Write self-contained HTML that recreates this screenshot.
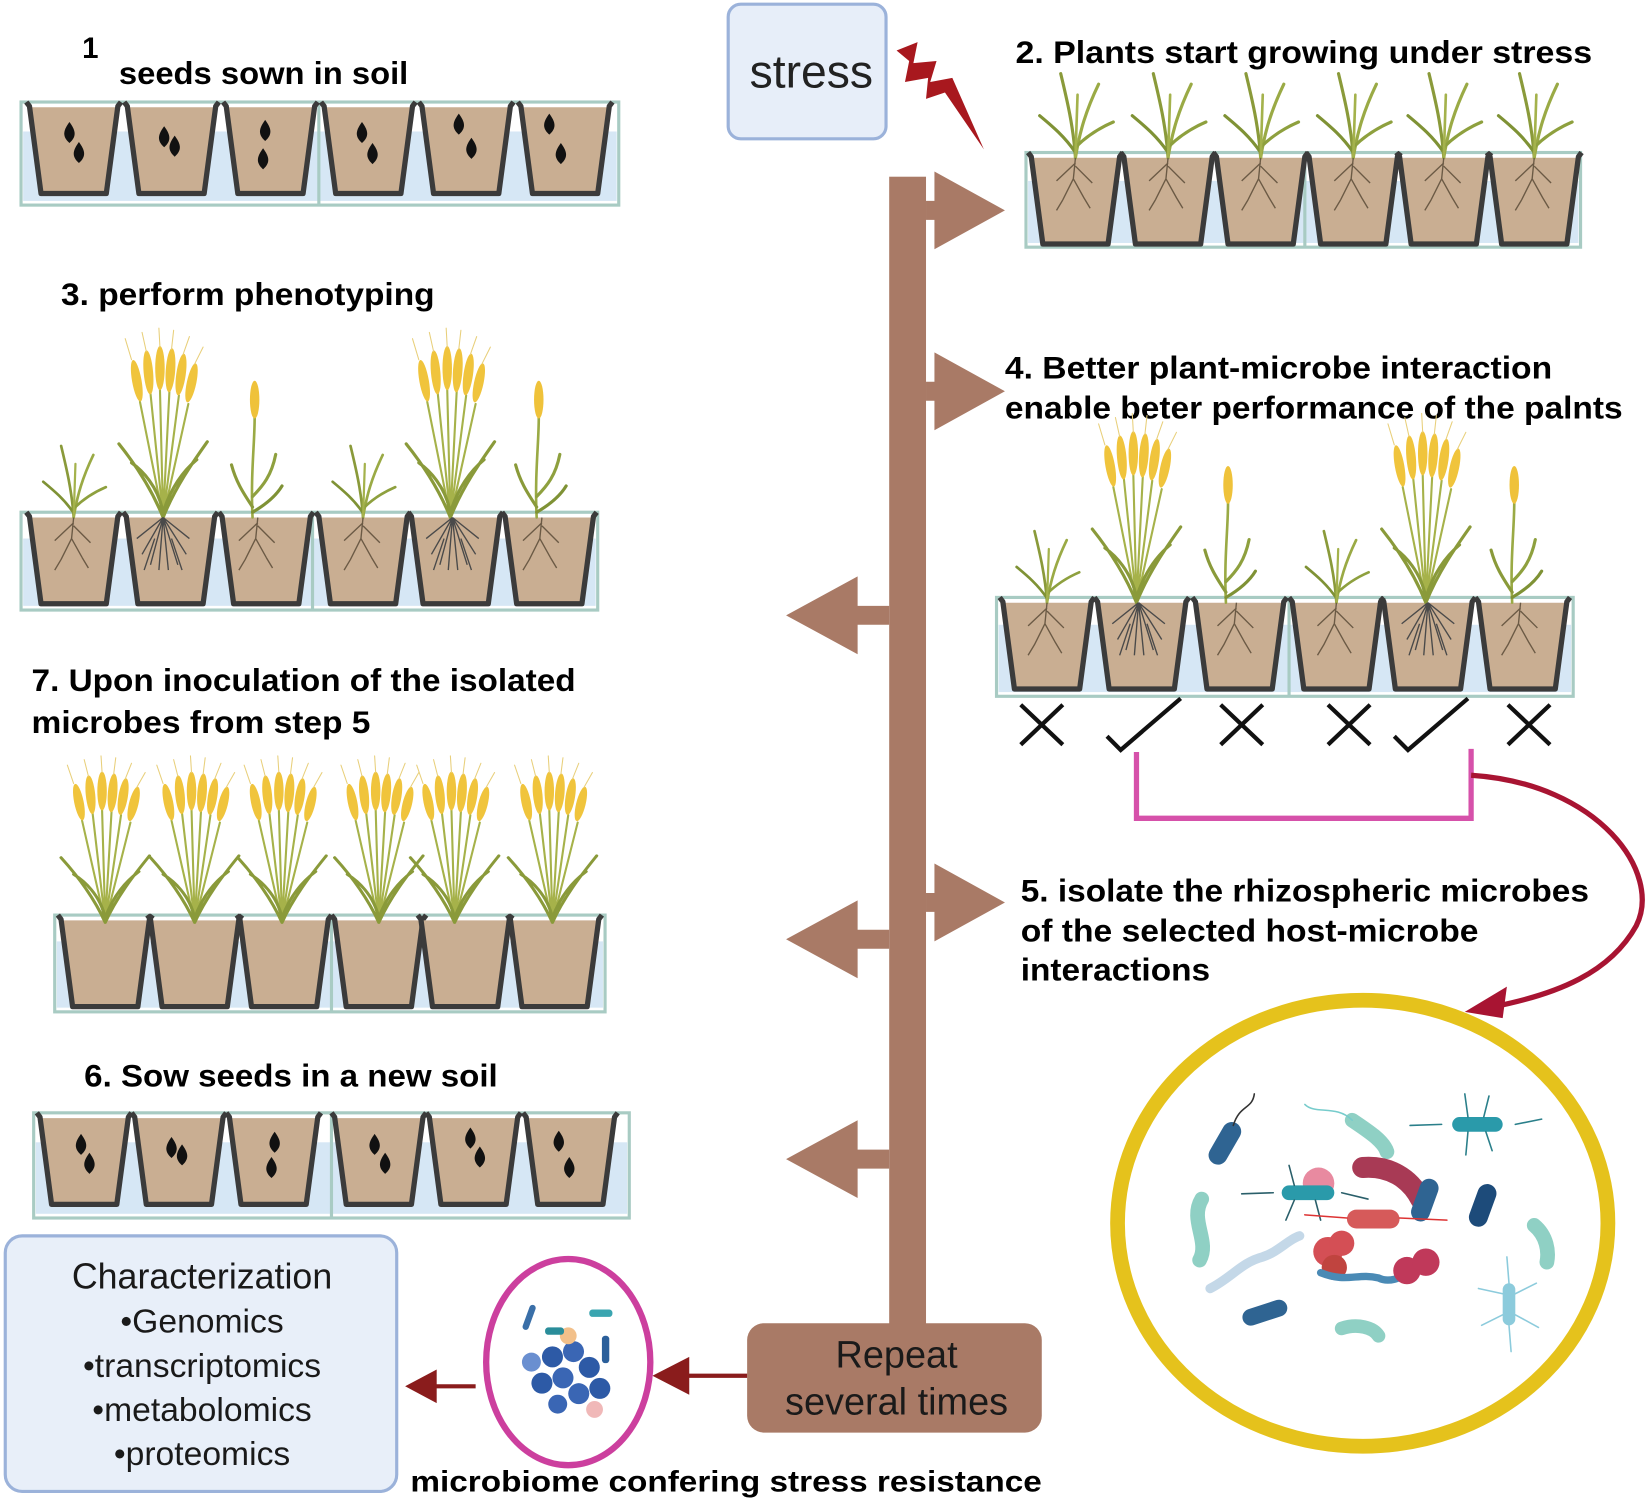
<!DOCTYPE html>
<html><head><meta charset="utf-8"><style>html,body{margin:0;padding:0;background:#fff}svg{display:block}</style></head>
<body>
<svg width="1650" height="1502" viewBox="0 0 1568 1428" preserveAspectRatio="none" xmlns="http://www.w3.org/2000/svg" font-family="Liberation Sans, sans-serif">
<defs>
<g id="pot">
<path d="M-40,2 L-29,82 L29,82 L40,2Z" fill="#c9ae92"/>
<path d="M-45,-3 L-42,1 L-31,84 L31,84 L42,1 L45,-3" fill="none" stroke="#3b3b3b" stroke-width="5" stroke-linejoin="round"/>
</g>
<path id="seed" d="M0,-12 C5,-5 8,1 0,8 C-8,1 -5,-5 0,-12Z" fill="#111"/>
<g id="roots" stroke="#6b5a45" stroke-width="1.3" fill="none">
<path d="M0,0 L-2,20 L-12,40 M-2,20 L8,38 M0,5 L-18,22 M0,8 L16,24 M-12,40 L-18,50 M8,38 L14,48"/>
</g>
<g id="roots2" stroke="#4a4a4a" stroke-width="1.3" fill="none">
<path d="M0,0 L-20,35 M0,0 L-12,45 M0,0 L-4,50 M0,0 L5,50 M0,0 L14,45 M0,0 L22,35 M0,0 L-25,20 M0,0 L25,20 M-8,20 L-18,50 M8,20 L18,50"/>
</g>
<g id="seedling" fill="none" stroke-linecap="round">
<path d="M0,0 C-2,-30 -8,-55 -14,-80" stroke="#8a9a3a" stroke-width="3"/>
<path d="M0,0 C4,-25 10,-45 22,-70" stroke="#9aaa45" stroke-width="3"/>
<path d="M0,-5 C-10,-20 -22,-30 -34,-40" stroke="#7f9235" stroke-width="3"/>
<path d="M0,-10 C10,-20 22,-28 36,-34" stroke="#8ea03e" stroke-width="3"/>
<path d="M0,0 L2,-60" stroke="#a4b24c" stroke-width="2.5"/>
</g>
<g id="single" fill="none" stroke-linecap="round">
<path d="M0,0 C-2,-40 2,-70 2,-95" stroke="#9aaa45" stroke-width="2.5"/>
<path d="M0,-10 C-10,-25 -16,-35 -20,-50" stroke="#8a9a3a" stroke-width="3"/>
<path d="M0,-20 C10,-30 18,-40 22,-60" stroke="#8ea03e" stroke-width="3"/>
<path d="M0,-5 C12,-12 22,-20 28,-30" stroke="#7f9235" stroke-width="3"/>
<ellipse cx="2" cy="-112" rx="4.5" ry="18" fill="#efc23a"/>
</g>
<g id="wheat" fill="none" stroke-linecap="round">
<path d="M0,0 L-22,-110 M0,0 L-12,-118 M0,0 L-3,-122 M0,0 L6,-120 M0,0 L15,-116 M0,0 L24,-108" stroke="#a6b24a" stroke-width="2"/>
<path d="M0,0 C-12,-30 -30,-55 -42,-70 M0,0 C12,-30 30,-55 42,-72 M0,-5 C-5,-30 -20,-45 -30,-52 M0,-5 C8,-30 20,-45 32,-55" stroke="#8a9a3a" stroke-width="3"/>
<g fill="#f0c43c">
<ellipse cx="-25" cy="-130" rx="4.5" ry="20" transform="rotate(-10 -25 -130)"/>
<ellipse cx="-14" cy="-138" rx="4.5" ry="21" transform="rotate(-5 -14 -138)"/>
<ellipse cx="-3" cy="-142" rx="4.5" ry="21"/>
<ellipse cx="7" cy="-140" rx="4.5" ry="21" transform="rotate(4 7 -140)"/>
<ellipse cx="17" cy="-136" rx="4.5" ry="20" transform="rotate(8 17 -136)"/>
<ellipse cx="27" cy="-128" rx="4.5" ry="19" transform="rotate(12 27 -128)"/>
</g>
<path d="M-30,-150 L-36,-170 M-16,-158 L-20,-176 M-3,-162 L-4,-180 M8,-160 L10,-178 M19,-155 L25,-172 M30,-146 L38,-162" stroke="#e8cf7a" stroke-width="1"/>
</g>
<path id="rarrow" d="M0,-9 L8,-9 L8,-37 L75,0 L8,37 L8,9 L0,9Z" fill="#a97a66"/>
<path id="larrow" d="M0,-9 L-30,-9 L-30,-37 L-98,0 L-30,37 L-30,9 L0,9Z" fill="#a97a66"/>
</defs>

<!-- Row 1 -->
<rect x="20" y="97" width="568" height="98" fill="#fff" stroke="#a8cbc3" stroke-width="3"/>
<rect x="22" y="125" width="564" height="66" fill="#d6e7f5"/>
<line x1="303" y1="97" x2="303" y2="195" stroke="#a8cbc3" stroke-width="3"/>
<g transform="translate(0,100)">
<use href="#pot" x="70"/><use href="#pot" x="163"/><use href="#pot" x="257"/><use href="#pot" x="350"/><use href="#pot" x="443"/><use href="#pot" x="537"/>
</g>
<use href="#seed" x="66" y="128"/><use href="#seed" x="75" y="147"/>
<use href="#seed" x="156" y="132"/><use href="#seed" x="166" y="141"/>
<use href="#seed" x="252" y="126"/><use href="#seed" x="250" y="153"/>
<use href="#seed" x="344" y="128"/><use href="#seed" x="354" y="148"/>
<use href="#seed" x="436" y="120"/><use href="#seed" x="448" y="143"/>
<use href="#seed" x="522" y="120"/><use href="#seed" x="533" y="148"/>
<text x="78" y="55" font-size="28" font-weight="bold">1</text>
<text x="113" y="80" font-size="30" font-weight="bold" textLength="275" lengthAdjust="spacingAndGlyphs">seeds sown in soil</text>

<!-- Row 2 -->
<rect x="975" y="145" width="527" height="90" fill="#fff" stroke="#a8cbc3" stroke-width="3"/>
<rect x="977" y="172" width="523" height="59" fill="#d6e7f5"/>
<line x1="1240" y1="145" x2="1240" y2="235" stroke="#a8cbc3" stroke-width="3"/>
<g transform="translate(0,148)">
<use href="#pot" x="1022"/><use href="#pot" x="1110"/><use href="#pot" x="1198"/><use href="#pot" x="1286"/><use href="#pot" x="1372"/><use href="#pot" x="1458"/>
</g>
<g transform="translate(0,150)">
<use href="#seedling" x="1022"/><use href="#seedling" x="1110"/><use href="#seedling" x="1198"/><use href="#seedling" x="1286"/><use href="#seedling" x="1372"/><use href="#seedling" x="1458"/>
<use href="#roots" x="1022"/><use href="#roots" x="1110"/><use href="#roots" x="1198"/><use href="#roots" x="1286"/><use href="#roots" x="1372"/><use href="#roots" x="1458"/>
</g>
<text x="965" y="60" font-size="30" font-weight="bold" textLength="548" lengthAdjust="spacingAndGlyphs">2. Plants start  growing under stress</text>

<!-- Stress -->
<rect x="692" y="4" width="150" height="128" rx="12" fill="#e7eef9" stroke="#9bb2da" stroke-width="3"/>
<text x="771" y="83" font-size="44" text-anchor="middle" fill="#222">stress</text>
<path d="M852,48 L872,40 L868,60 L890,58 L884,78 L905,74 L935,142 L898,88 L880,94 L882,74 L860,78 L864,58 Z" fill="#a8181e"/>

<!-- Row 3 -->
<text x="58" y="290" font-size="30" font-weight="bold" textLength="355" lengthAdjust="spacingAndGlyphs">3. perform phenotyping</text>
<rect x="20" y="487" width="548" height="93" fill="#fff" stroke="#a8cbc3" stroke-width="3"/>
<rect x="22" y="512" width="544" height="64" fill="#d6e7f5"/>
<line x1="297" y1="487" x2="297" y2="580" stroke="#a8cbc3" stroke-width="3"/>
<g transform="translate(0,490)">
<use href="#pot" x="70"/><use href="#pot" x="162"/><use href="#pot" x="253"/><use href="#pot" x="345"/><use href="#pot" x="433"/><use href="#pot" x="522"/>
</g>
<g transform="translate(0,492)">
<use href="#seedling" x="70" transform="translate(70,0) scale(0.85) translate(-70,0)"/>
<use href="#wheat" x="155"/>
<use href="#single" x="240"/>
<use href="#seedling" x="345" transform="translate(345,0) scale(0.85) translate(-345,0)"/>
<use href="#wheat" x="428"/>
<use href="#single" x="510"/>
<use href="#roots" x="70"/><use href="#roots2" x="155"/><use href="#roots" x="245"/><use href="#roots" x="345"/><use href="#roots2" x="430"/><use href="#roots" x="515"/>
</g>

<!-- Row 4 -->
<text x="955" y="360" font-size="30" font-weight="bold" textLength="520" lengthAdjust="spacingAndGlyphs">4. Better plant-microbe interaction</text>
<text x="955" y="398" font-size="30" font-weight="bold" textLength="587" lengthAdjust="spacingAndGlyphs">enable beter performance of the palnts</text>
<rect x="947" y="568" width="548" height="94" fill="#fff" stroke="#a8cbc3" stroke-width="3"/>
<rect x="949" y="594" width="544" height="64" fill="#d6e7f5"/>
<line x1="1225" y1="568" x2="1225" y2="662" stroke="#a8cbc3" stroke-width="3"/>
<g transform="translate(0,571)">
<use href="#pot" x="995"/><use href="#pot" x="1085"/><use href="#pot" x="1178"/><use href="#pot" x="1270"/><use href="#pot" x="1357"/><use href="#pot" x="1447"/>
</g>
<g transform="translate(0,573)">
<use href="#seedling" x="995" transform="translate(995,0) scale(0.85) translate(-995,0)"/>
<use href="#wheat" x="1080"/>
<use href="#single" x="1165"/>
<use href="#seedling" x="1270" transform="translate(1270,0) scale(0.85) translate(-1270,0)"/>
<use href="#wheat" x="1355"/>
<use href="#single" x="1437"/>
<use href="#roots" x="995"/><use href="#roots2" x="1082"/><use href="#roots" x="1175"/><use href="#roots" x="1270"/><use href="#roots2" x="1357"/><use href="#roots" x="1445"/>
</g>
<g stroke="#111" stroke-width="4" fill="none">
<path d="M970,670 L1010,708 M1010,670 L970,708"/>
<path d="M1160,670 L1200,708 M1200,670 L1160,708"/>
<path d="M1262,670 L1302,708 M1302,670 L1262,708"/>
<path d="M1433,670 L1473,708 M1473,670 L1433,708"/>
<path d="M1052,700 L1065,713 L1122,664"/>
<path d="M1325,700 L1338,713 L1395,664"/>
</g>
<path d="M1080,715 L1080,778 L1398,778 L1398,712" fill="none" stroke="#d651aa" stroke-width="5"/>
<path d="M1398,737 C1520,745 1580,830 1555,880 C1530,925 1480,945 1420,957" fill="none" stroke="#a81432" stroke-width="5"/>
<path d="M1392,962 L1432,938 L1428,968 Z" fill="#a81432"/>

<!-- Row 7 -->
<text x="30" y="657" font-size="30" font-weight="bold" textLength="517" lengthAdjust="spacingAndGlyphs">7. Upon inoculation of the isolated</text>
<text x="30" y="697" font-size="30" font-weight="bold" textLength="322" lengthAdjust="spacingAndGlyphs">microbes from step 5</text>
<rect x="52" y="870" width="523" height="92" fill="#fff" stroke="#a8cbc3" stroke-width="3"/>
<rect x="54" y="895" width="519" height="63" fill="#d6e7f5"/>
<line x1="315" y1="870" x2="315" y2="962" stroke="#a8cbc3" stroke-width="3"/>
<g transform="translate(0,873)">
<use href="#pot" x="100"/><use href="#pot" x="185"/><use href="#pot" x="270"/><use href="#pot" x="360"/><use href="#pot" x="442"/><use href="#pot" x="527"/>
</g>
<g transform="translate(0,877) scale(1,0.88)">
<use href="#wheat" x="100"/><use href="#wheat" x="185"/><use href="#wheat" x="268"/><use href="#wheat" x="360"/><use href="#wheat" x="432"/><use href="#wheat" x="525"/>
</g>

<!-- Row 5 text -->
<text x="970" y="857" font-size="30" font-weight="bold" textLength="540" lengthAdjust="spacingAndGlyphs">5. isolate the rhizospheric microbes</text>
<text x="970" y="895" font-size="30" font-weight="bold" textLength="435" lengthAdjust="spacingAndGlyphs">of the selected host-microbe</text>
<text x="970" y="932" font-size="30" font-weight="bold" textLength="180" lengthAdjust="spacingAndGlyphs">interactions</text>

<!-- Row 6 -->
<text x="80" y="1033" font-size="30" font-weight="bold" textLength="393" lengthAdjust="spacingAndGlyphs">6. Sow seeds in a new soil</text>
<rect x="32" y="1058" width="566" height="100" fill="#fff" stroke="#a8cbc3" stroke-width="3"/>
<rect x="34" y="1086" width="562" height="68" fill="#d6e7f5"/>
<line x1="315" y1="1058" x2="315" y2="1158" stroke="#a8cbc3" stroke-width="3"/>
<g transform="translate(0,1061)">
<use href="#pot" x="80"/><use href="#pot" x="170"/><use href="#pot" x="260"/><use href="#pot" x="360"/><use href="#pot" x="450"/><use href="#pot" x="542"/>
</g>
<use href="#seed" x="77" y="1090"/><use href="#seed" x="85" y="1108"/>
<use href="#seed" x="163" y="1093"/><use href="#seed" x="173" y="1100"/>
<use href="#seed" x="261" y="1088"/><use href="#seed" x="258" y="1112"/>
<use href="#seed" x="356" y="1090"/><use href="#seed" x="366" y="1108"/>
<use href="#seed" x="447" y="1084"/><use href="#seed" x="456" y="1102"/>
<use href="#seed" x="531" y="1087"/><use href="#seed" x="541" y="1112"/>

<!-- trunk and arrows -->
<rect x="845" y="168" width="35" height="1095" fill="#a97a66"/>
<use href="#rarrow" x="880" y="200"/>
<use href="#rarrow" x="880" y="372"/>
<use href="#rarrow" x="880" y="858"/>
<use href="#larrow" x="845" y="585"/>
<use href="#larrow" x="845" y="893"/>
<use href="#larrow" x="845" y="1102"/>
<rect x="710" y="1258" width="280" height="104" rx="16" fill="#a97a66"/>
<text x="852" y="1300" font-size="36" text-anchor="middle" fill="#1a1a1a">Repeat</text>
<text x="852" y="1345" font-size="36" text-anchor="middle" fill="#1a1a1a">several times</text>

<!-- dark red arrows -->
<line x1="710" y1="1308" x2="650" y2="1308" stroke="#8a1c1c" stroke-width="4"/>
<path d="M620,1308 L655,1290 L655,1326 Z" fill="#8a1c1c"/>
<line x1="452" y1="1318" x2="410" y2="1318" stroke="#8a1c1c" stroke-width="4"/>
<path d="M385,1318 L415,1302 L415,1334 Z" fill="#8a1c1c"/>

<!-- magenta ellipse with microbes -->
<ellipse cx="540" cy="1295" rx="78" ry="98" fill="#fff" stroke="#cc3f9e" stroke-width="6"/>
<g>
<circle cx="525" cy="1290" r="10" fill="#2d5aa6"/><circle cx="545" cy="1285" r="10" fill="#3a66b4"/><circle cx="560" cy="1300" r="10" fill="#2d5aa6"/>
<circle cx="535" cy="1310" r="10" fill="#3a66b4"/><circle cx="515" cy="1315" r="10" fill="#2d5aa6"/><circle cx="550" cy="1325" r="10" fill="#3a66b4"/>
<circle cx="570" cy="1320" r="10" fill="#2d5aa6"/><circle cx="530" cy="1335" r="9" fill="#3a66b4"/><circle cx="505" cy="1295" r="9" fill="#6a8fd0"/>
<circle cx="565" cy="1340" r="8" fill="#f0b8b8"/><circle cx="540" cy="1270" r="8" fill="#f2c08a"/>
<rect x="500" y="1240" width="6" height="25" rx="3" fill="#3a6fa8" transform="rotate(20 503 1252)"/>
<rect x="560" y="1245" width="22" height="7" rx="3" fill="#3aa5b0"/>
<rect x="518" y="1262" width="18" height="7" rx="3" fill="#2a8d9a"/>
<rect x="572" y="1270" width="7" height="26" rx="3" fill="#2b5f9a"/>
</g>

<!-- characterization -->
<rect x="5" y="1175" width="372" height="243" rx="16" fill="#e8eff9" stroke="#9bb2da" stroke-width="3"/>
<g font-size="34" text-anchor="middle" fill="#1a1a1a">
<text x="192" y="1225">Characterization</text>
<text x="192" y="1267" font-size="32">•Genomics</text>
<text x="192" y="1309" font-size="32">•transcriptomics</text>
<text x="192" y="1351" font-size="32">•metabolomics</text>
<text x="192" y="1393" font-size="32">•proteomics</text>
</g>
<text x="390" y="1418" font-size="28" font-weight="bold" textLength="600" lengthAdjust="spacingAndGlyphs">microbiome confering stress resistance</text>

<!-- yellow circle microbes -->
<ellipse cx="1295" cy="1163" rx="233" ry="212" fill="#fff" stroke="#e5c21c" stroke-width="14"/>
<g stroke-linecap="round">
<rect x="1155" y="1065" width="18" height="44" rx="9" fill="#2f6492" transform="rotate(30 1164 1087)"/>
<path d="M1172,1070 C1178,1050 1190,1055 1192,1040" stroke="#333" stroke-width="1.5" fill="none"/>
<path d="M1285,1065 C1300,1075 1315,1085 1318,1095" stroke="#8fd0c4" stroke-width="14" fill="none"/>
<path d="M1285,1065 C1270,1050 1250,1060 1240,1050" stroke="#7cc" stroke-width="1.5" fill="none"/>
<rect x="1380" y="1062" width="48" height="14" rx="7" fill="#2a9aaa"/>
<path d="M1370,1069 L1340,1070 M1440,1069 L1465,1064 M1395,1062 L1392,1040 M1410,1062 L1415,1042 M1395,1076 L1393,1098 M1412,1076 L1418,1094" stroke="#2a7f8a" stroke-width="1.5"/>
<path d="M1295,1110 C1320,1108 1340,1120 1350,1140" stroke="#a83a55" stroke-width="20" fill="none"/>
<rect x="1345" y="1120" width="18" height="42" rx="9" fill="#2f6492" transform="rotate(20 1354 1141)"/>
<rect x="1400" y="1125" width="18" height="42" rx="9" fill="#1d4b7a" transform="rotate(20 1409 1146)"/>
<circle cx="1253" cy="1125" r="15" fill="#e88aa0"/>
<rect x="1218" y="1127" width="50" height="14" rx="7" fill="#2a9aaa"/>
<path d="M1210,1134 L1180,1135 M1275,1134 L1300,1140 M1230,1127 L1225,1108 M1250,1141 L1255,1160 M1230,1141 L1222,1160" stroke="#2a5f6a" stroke-width="1.5"/>
<rect x="1280" y="1150" width="50" height="18" rx="9" fill="#d65a5a"/>
<path d="M1280,1158 L1240,1155 M1330,1158 L1375,1160" stroke="#d33" stroke-width="1.5"/>
<path d="M1142,1140 C1130,1160 1150,1180 1140,1198" stroke="#8fd0c4" stroke-width="14" fill="none"/>
<path d="M1458,1165 C1470,1175 1472,1190 1470,1200" stroke="#8fd0c4" stroke-width="14" fill="none"/>
<path d="M1150,1225 C1170,1215 1180,1200 1200,1195 C1215,1190 1225,1178 1235,1175" stroke="#c4d8e8" stroke-width="9" fill="none"/>
<circle cx="1262" cy="1190" r="14" fill="#d44f55"/><circle cx="1275" cy="1182" r="12" fill="#d44f55"/><circle cx="1268" cy="1205" r="12" fill="#c0443f"/>
<path d="M1255,1210 C1280,1220 1290,1210 1310,1215 C1320,1220 1330,1215 1340,1210" stroke="#4a8ab5" stroke-width="7" fill="none"/>
<circle cx="1337" cy="1208" r="13" fill="#c0395a"/><circle cx="1355" cy="1200" r="13" fill="#c0395a"/>
<rect x="1180" y="1240" width="44" height="16" rx="8" fill="#2f6492" transform="rotate(-18 1202 1248)"/>
<path d="M1275,1263 C1290,1258 1305,1262 1310,1270" stroke="#8fd0c4" stroke-width="13" fill="none"/>
<rect x="1428" y="1220" width="12" height="40" rx="6" fill="#8ccbdc"/>
<path d="M1434,1220 L1432,1195 M1434,1260 L1436,1285 M1428,1230 L1405,1225 M1440,1230 L1460,1220 M1428,1250 L1408,1260 M1440,1250 L1462,1262" stroke="#8ccbdc" stroke-width="1.5"/>
</g>
</svg>
</body></html>
